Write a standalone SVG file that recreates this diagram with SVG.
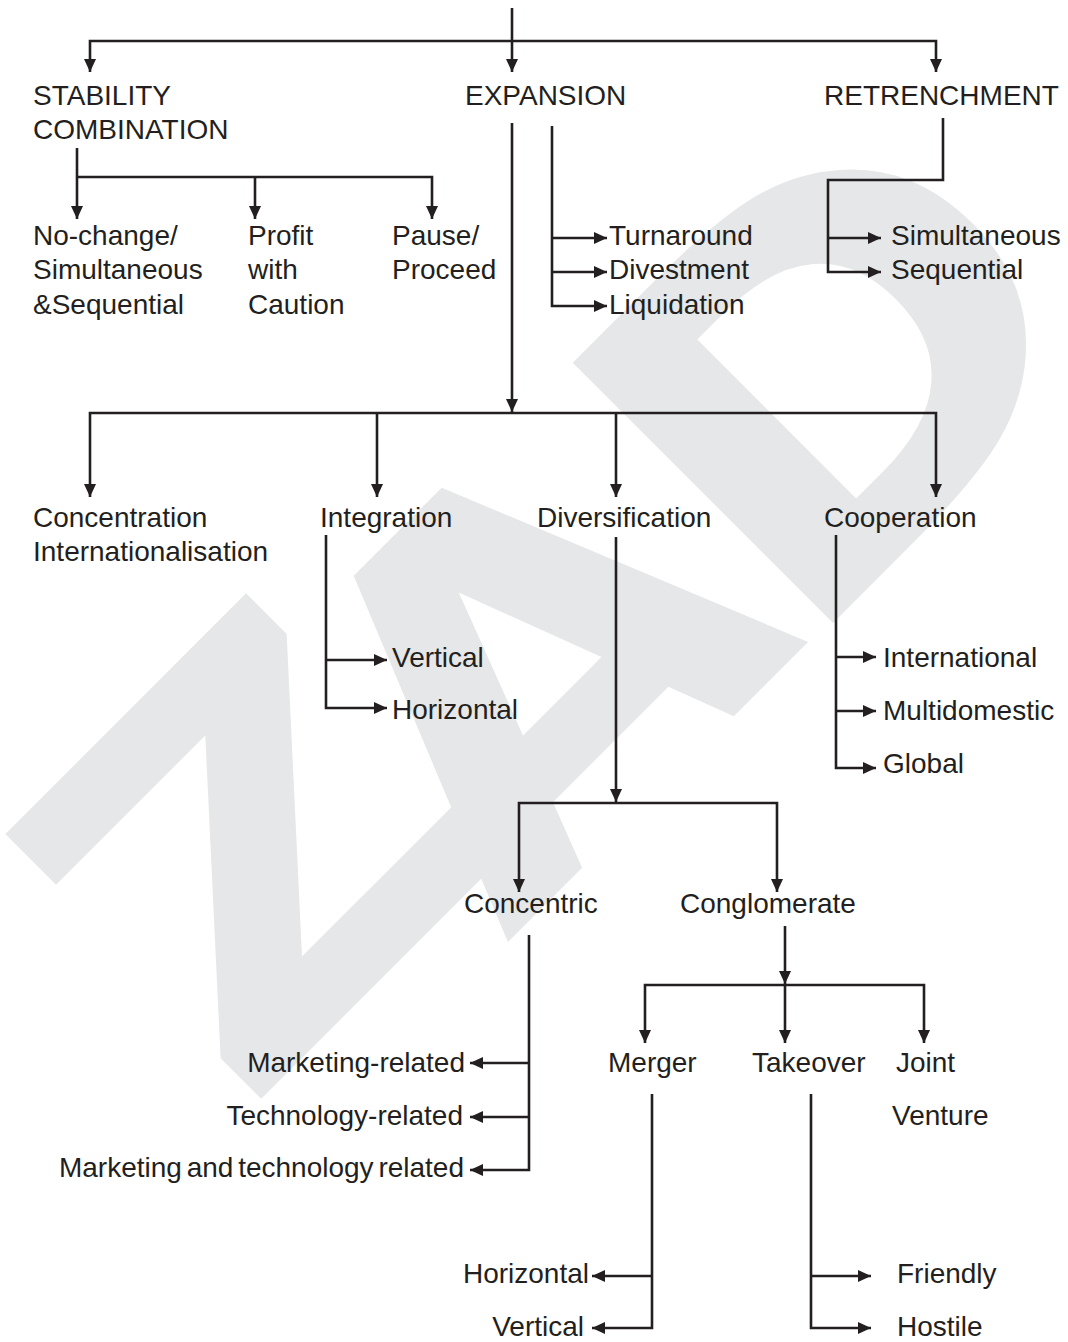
<svg xmlns="http://www.w3.org/2000/svg" width="1068" height="1342" viewBox="0 0 1068 1342">
  <defs>
    <marker id="arrow" viewBox="0 0 13 13" refX="13" refY="6.5" markerWidth="13" markerHeight="13" markerUnits="userSpaceOnUse" orient="auto-start-reverse">
      <path d="M0,0.5 L13,6.5 L0,12.5 Z" fill="#231f20"/>
    </marker>
  </defs>
  <style>
    .lbl { font-family: "Liberation Sans", Arial, sans-serif; font-size: 28px; fill: #231f20; }
    .end { text-anchor: end; }
    .ln { fill: none; stroke: #231f20; stroke-width: 2.6; stroke-linejoin: miter; stroke-linecap: butt; }
    .arr { marker-end: url(#arrow); }
    .both { marker-start: url(#arrow); marker-end: url(#arrow); }
    .wm { font-family: "DejaVu Sans", sans-serif; font-weight: bold; font-size: 505px; fill: #e6e7e8; text-anchor: middle; }
  </style>
  <rect width="1068" height="1342" fill="#ffffff"/>

  <!-- background watermark, one glyph per element -->
  <g id="watermark">
    <text class="wm" transform="translate(386,974) rotate(-45) scale(1.1,1)">Z</text>
    <text class="wm" transform="translate(658,792) rotate(-45) scale(1.1,1)">A</text>
    <text class="wm" transform="translate(960,496) rotate(-45) scale(1.1,1)">D</text>
  </g>

  <!-- connectors -->
  <g id="connectors">
    <path class="ln arr" d="M512,8 V72"/>
    <path class="ln both" d="M90,72 V41 H936 V72"/>

    <path class="ln arr" d="M77,148 V219"/>
    <path class="ln arr" d="M77,177 H432 V219"/>
    <path class="ln arr" d="M255,177 V219"/>

    <path class="ln arr" d="M552,126 V306 H607"/>
    <path class="ln arr" d="M552,238 H607"/>
    <path class="ln arr" d="M552,272 H607"/>

    <path class="ln arr" d="M943,118 V180 H828 V272 H881"/>
    <path class="ln arr" d="M828,238 H881"/>

    <path class="ln arr" d="M512,123 V412"/>
    <path class="ln both" d="M90,497 V413 H936 V497"/>
    <path class="ln arr" d="M377,413 V497"/>
    <path class="ln arr" d="M616,413 V497"/>

    <path class="ln arr" d="M326,535 V708 H387"/>
    <path class="ln arr" d="M326,660 H387"/>

    <path class="ln arr" d="M836,535 V768 H876"/>
    <path class="ln arr" d="M836,657 H876"/>
    <path class="ln arr" d="M836,711 H876"/>

    <path class="ln arr" d="M616,537 V802"/>
    <path class="ln both" d="M519,892 V803 H777 V892"/>

    <path class="ln arr" d="M529,935 V1170 H470"/>
    <path class="ln arr" d="M529,1063 H470"/>
    <path class="ln arr" d="M529,1117 H470"/>

    <path class="ln arr" d="M785,926 V984"/>
    <path class="ln both" d="M645,1043 V985 H924 V1043"/>
    <path class="ln arr" d="M785,985 V1043"/>

    <path class="ln arr" d="M652,1094 V1328 H592"/>
    <path class="ln arr" d="M652,1276 H592"/>

    <path class="ln arr" d="M811,1094 V1328 H871"/>
    <path class="ln arr" d="M811,1276 H871"/>
  </g>

  <!-- top level -->
  <g id="stability"><text class="lbl" x="33" y="105">STABILITY</text><text class="lbl" x="33" y="139">COMBINATION</text></g>
  <g id="expansion"><text class="lbl" x="465" y="105">EXPANSION</text></g>
  <g id="retrenchment"><text class="lbl" x="824" y="105">RETRENCHMENT</text></g>

  <!-- stability options -->
  <g id="no-change"><text class="lbl" x="33" y="245">No-change/</text><text class="lbl" x="33" y="279">Simultaneous</text><text class="lbl" x="33" y="314">&amp;Sequential</text></g>
  <g id="profit"><text class="lbl" x="248" y="245">Profit</text><text class="lbl" x="248" y="279">with</text><text class="lbl" x="248" y="314">Caution</text></g>
  <g id="pause"><text class="lbl" x="392" y="245">Pause/</text><text class="lbl" x="392" y="279">Proceed</text></g>

  <!-- turnaround options -->
  <g id="turnaround"><text class="lbl" x="609" y="245">Turnaround</text></g>
  <g id="divestment"><text class="lbl" x="609" y="279">Divestment</text></g>
  <g id="liquidation"><text class="lbl" x="609" y="314">Liquidation</text></g>

  <!-- retrenchment options -->
  <g id="simultaneous"><text class="lbl" x="891" y="245">Simultaneous</text></g>
  <g id="sequential"><text class="lbl" x="891" y="279">Sequential</text></g>

  <!-- expansion options -->
  <g id="concentration"><text class="lbl" x="33" y="527">Concentration</text><text class="lbl" x="33" y="561">Internationalisation</text></g>
  <g id="integration"><text class="lbl" x="320" y="527">Integration</text></g>
  <g id="diversification"><text class="lbl" x="537" y="527">Diversification</text></g>
  <g id="cooperation"><text class="lbl" x="824" y="527">Cooperation</text></g>

  <g id="int-vertical"><text class="lbl" x="392" y="667">Vertical</text></g>
  <g id="int-horizontal"><text class="lbl" x="392" y="719">Horizontal</text></g>

  <g id="international"><text class="lbl" x="883" y="667">International</text></g>
  <g id="multidomestic"><text class="lbl" x="883" y="720">Multidomestic</text></g>
  <g id="global"><text class="lbl" x="883" y="773">Global</text></g>

  <!-- diversification -->
  <g id="concentric"><text class="lbl" x="464" y="913">Concentric</text></g>
  <g id="conglomerate"><text class="lbl" x="680" y="913">Conglomerate</text></g>

  <g id="marketing-related"><text class="lbl end" x="465" y="1072">Marketing-related</text></g>
  <g id="technology-related"><text class="lbl end" x="463" y="1125">Technology-related</text></g>
  <g id="mkt-tech-related"><text class="lbl end" x="464" y="1177" word-spacing="-3">Marketing and technology related</text></g>

  <g id="merger"><text class="lbl" x="608" y="1072">Merger</text></g>
  <g id="takeover"><text class="lbl" x="752" y="1072">Takeover</text></g>
  <g id="joint-venture"><text class="lbl" x="896" y="1072">Joint</text><text class="lbl" x="892" y="1125">Venture</text></g>

  <g id="mer-horizontal"><text class="lbl end" x="589" y="1283">Horizontal</text></g>
  <g id="mer-vertical"><text class="lbl end" x="584" y="1336">Vertical</text></g>

  <g id="friendly"><text class="lbl" x="897" y="1283">Friendly</text></g>
  <g id="hostile"><text class="lbl" x="897" y="1336">Hostile</text></g>
</svg>
